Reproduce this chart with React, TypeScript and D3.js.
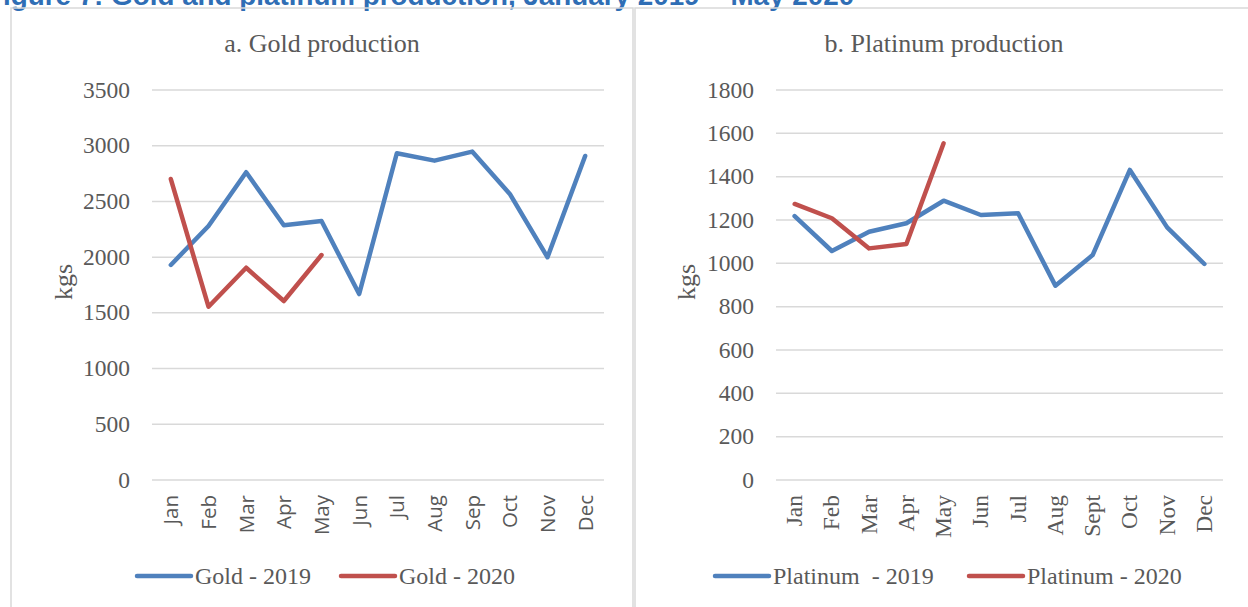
import React from "react";
import * as d3 from "d3";

const goldMonths = ["Jan", "Feb", "Mar", "Apr", "May", "Jun", "Jul", "Aug", "Sep", "Oct", "Nov", "Dec"];
const platMonths = ["Jan", "Feb", "Mar", "Apr", "May", "Jun", "Jul", "Aug", "Sept", "Oct", "Nov", "Dec"];
const gold2019 = [1930, 2280, 2762, 2286, 2324, 1669, 2932, 2866, 2947, 2567, 1999, 2908];
const gold2020 = [2701, 1555, 1905, 1606, 2019];
const plat2019 = [1218, 1057, 1146, 1185, 1289, 1223, 1231, 897, 1038, 1431, 1166, 997];
const plat2020 = [1274, 1208, 1069, 1089, 1554];
const goldTicks = [0, 500, 1000, 1500, 2000, 2500, 3000, 3500];
const platTicks = [0, 200, 400, 600, 800, 1000, 1200, 1400, 1600, 1800];

const BLUE = "#4f81bd";
const RED = "#c0504d";
const GRID = "#d9d9d9";
const TXT = "#595959";
const SERIF = "'Liberation Serif', 'Times New Roman', serif";
const SANS = "'Open Sans', 'Liberation Sans', sans-serif";

type PanelProps = {
  title: string;
  titleX: number;
  plotLeft: number;
  plotRight: number;
  months: string[];
  monthFont: string;
  monthSize: number;
  s1: number[];
  s2: number[];
  maxY: number;
  ticks: number[];
  tickRight: number;
  kgsX: number;
  leg1: string;
  leg2: string;
  legX1: number;
  legX2: number;
};

function Panel(p: PanelProps) {
  const top = 90;
  const bottom = 480;
  const x = d3.scaleBand<string>().domain(p.months).range([p.plotLeft, p.plotRight]);
  const y = d3.scaleLinear().domain([0, p.maxY]).range([bottom, top]);
  const cx = (i: number) => (x(p.months[i]) as number) + x.bandwidth() / 2;
  const line = d3
    .line<number>()
    .x((_, i) => cx(i))
    .y((d) => y(d));
  const legY = 576;
  return (
    <g>
      <text x={p.titleX} y={52} textAnchor="middle" fontFamily={SERIF} fontSize={26} fill={TXT}>
        {p.title}
      </text>
      {p.ticks.map((t) => (
        <g key={t}>
          <line x1={p.plotLeft} x2={p.plotRight} y1={y(t)} y2={y(t)} stroke={GRID} strokeWidth={1.5} />
          <text x={p.tickRight} y={y(t) + 7.5} textAnchor="end" fontFamily={SERIF} fontSize={23.5} fill={TXT}>
            {t}
          </text>
        </g>
      ))}
      <text
        transform={`translate(${p.kgsX},282) rotate(-90)`}
        textAnchor="middle"
        fontFamily={SERIF}
        fontSize={26}
        fill={TXT}
      >
        kgs
      </text>
      {p.months.map((m, i) => (
        <text
          key={m}
          transform={`translate(${cx(i) + 7.5},495) rotate(-90)`}
          textAnchor="end"
          fontFamily={p.monthFont}
          fontSize={p.monthSize}
          fill={TXT}
        >
          {m}
        </text>
      ))}
      <path d={line(p.s1) || ""} fill="none" stroke={BLUE} strokeWidth={4.5} strokeLinejoin="round" strokeLinecap="round" />
      <path d={line(p.s2) || ""} fill="none" stroke={RED} strokeWidth={4.5} strokeLinejoin="round" strokeLinecap="round" />
      <line x1={p.legX1} x2={p.legX1 + 54} y1={legY} y2={legY} stroke={BLUE} strokeWidth={4.5} strokeLinecap="round" />
      <text x={p.legX1 + 58} y={legY + 8} fontFamily={SERIF} fontSize={24} fill={TXT} xmlSpace="preserve">
        {p.leg1}
      </text>
      <line x1={p.legX2} x2={p.legX2 + 54} y1={legY} y2={legY} stroke={RED} strokeWidth={4.5} strokeLinecap="round" />
      <text x={p.legX2 + 58} y={legY + 8} fontFamily={SERIF} fontSize={24} fill={TXT} xmlSpace="preserve">
        {p.leg2}
      </text>
    </g>
  );
}

export default function App() {
  return (
    <svg
      width={1248}
      height={607}
      style={{ position: "absolute", left: 0, top: 0, background: "#fff" }}
    >
      <rect x={0} y={0} width={1248} height={607} fill="#fff" />
      <text x={-14} y={5} fontFamily="'Liberation Sans', Arial, sans-serif" fontWeight="bold" fontSize={27.8} fill="#2f6eb5">
        Figure 7: Gold and platinum production, January 2019 – May 2020
      </text>
      <rect x={11} y={8} width={622} height={620} fill="none" stroke={GRID} strokeWidth={1.5} />
      <rect x={635} y={8} width={640} height={620} fill="none" stroke={GRID} strokeWidth={1.5} />
      <Panel
        title="a. Gold production"
        titleX={322}
        plotLeft={152}
        plotRight={604}
        months={goldMonths}
        monthFont={SANS}
        monthSize={20.5}
        s1={gold2019}
        s2={gold2020}
        maxY={3500}
        ticks={goldTicks}
        tickRight={130}
        kgsX={72}
        leg1="Gold - 2019"
        leg2="Gold - 2020"
        legX1={137}
        legX2={341}
      />
      <Panel
        title="b. Platinum production"
        titleX={944}
        plotLeft={776}
        plotRight={1223}
        months={platMonths}
        monthFont={SERIF}
        monthSize={23.5}
        s1={plat2019}
        s2={plat2020}
        maxY={1800}
        ticks={platTicks}
        tickRight={754}
        kgsX={695}
        leg1="Platinum  - 2019"
        leg2="Platinum - 2020"
        legX1={715}
        legX2={969}
      />
    </svg>
  );
}
